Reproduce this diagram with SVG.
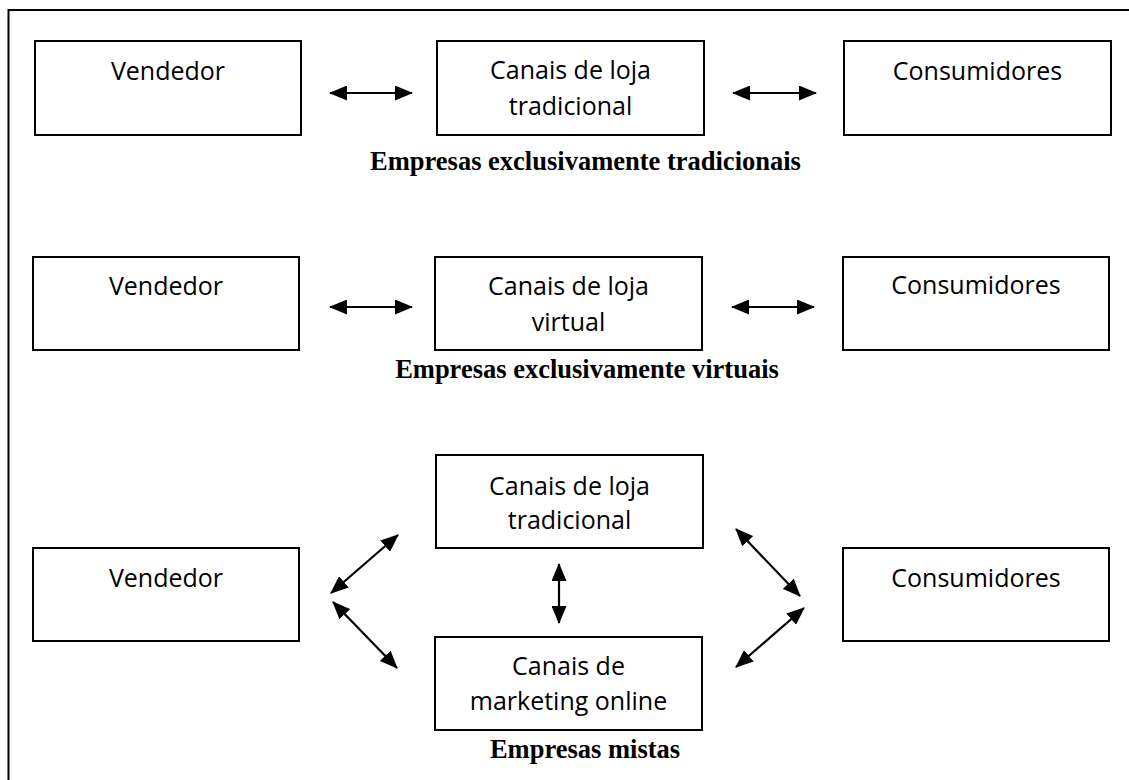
<svg xmlns="http://www.w3.org/2000/svg" width="1129" height="780" viewBox="0 0 1129 780">
<style>
.box{fill:#fff;stroke:#000;stroke-width:2}
.t{font-family:"Open Sans","Liberation Sans",sans-serif;font-size:25px;fill:#000;text-anchor:middle}
.h{font-family:"Liberation Serif","Times New Roman",serif;font-size:26.5px;font-weight:bold;fill:#000;text-anchor:middle}
.c{stroke:#000;stroke-width:2.2;fill:none;marker-start:url(#ah);marker-end:url(#ah)}
</style>
<defs>
<marker id="ah" viewBox="0 0 18 15" markerWidth="18" markerHeight="15" refX="17" refY="7.5" markerUnits="userSpaceOnUse" orient="auto-start-reverse">
<path d="M0,0 L18,7.5 L0,15 z" fill="#000"/>
</marker>
</defs>
<rect x="0" y="0" width="1129" height="780" fill="#fff"/>
<rect x="8.5" y="10" width="1300" height="1000" fill="none" stroke="#000" stroke-width="2"/>

<g id="row1">
<g id="r1-vendedor"><rect class="box" x="35" y="41" width="266" height="94"/><text class="t" x="168" y="80">Vendedor</text></g>
<g id="r1-canais"><rect class="box" x="437" y="41" width="267" height="94"/><text class="t" x="570.5" y="79">Canais de loja</text><text class="t" x="570.5" y="115">tradicional</text></g>
<g id="r1-consumidores"><rect class="box" x="844" y="41" width="267" height="94"/><text class="t" x="977.5" y="80">Consumidores</text></g>
<text id="r1-title" class="h" x="585.5" y="170">Empresas exclusivamente tradicionais</text>
</g>

<g id="row2">
<g id="r2-vendedor"><rect class="box" x="33" y="257" width="266" height="93"/><text class="t" x="166" y="295">Vendedor</text></g>
<g id="r2-canais"><rect class="box" x="435" y="257" width="267" height="93"/><text class="t" x="568.5" y="295">Canais de loja</text><text class="t" x="568.5" y="331">virtual</text></g>
<g id="r2-consumidores"><rect class="box" x="843" y="257" width="266" height="93"/><text class="t" x="976" y="294">Consumidores</text></g>
<text id="r2-title" class="h" x="587" y="378">Empresas exclusivamente virtuais</text>
</g>

<g id="row3">
<g id="r3-vendedor"><rect class="box" x="33" y="548" width="266" height="93"/><text class="t" x="166" y="587">Vendedor</text></g>
<g id="r3-canais-trad"><rect class="box" x="436" y="455" width="267" height="93"/><text class="t" x="569.5" y="495">Canais de loja</text><text class="t" x="569.5" y="529">tradicional</text></g>
<g id="r3-canais-mkt"><rect class="box" x="435" y="637" width="267" height="93"/><text class="t" x="568.5" y="675">Canais de</text><text class="t" x="568.5" y="710">marketing online</text></g>
<g id="r3-consumidores"><rect class="box" x="843" y="548" width="266" height="93"/><text class="t" x="976" y="587">Consumidores</text></g>
<text id="r3-title" class="h" x="585" y="758">Empresas mistas</text>
</g>

<g id="connectors">
<line class="c" x1="330" y1="93" x2="412" y2="93"/>
<line class="c" x1="733" y1="93" x2="816" y2="93"/>
<line class="c" x1="330" y1="307" x2="412" y2="307"/>
<line class="c" x1="732" y1="307" x2="814" y2="307"/>
<line class="c" x1="331" y1="593" x2="398" y2="535"/>
<line class="c" x1="333" y1="602" x2="397" y2="668"/>
<line class="c" x1="559" y1="564" x2="559" y2="623"/>
<line class="c" x1="736" y1="529" x2="800" y2="596"/>
<line class="c" x1="804" y1="608" x2="736" y2="667"/>
</g>
</svg>
